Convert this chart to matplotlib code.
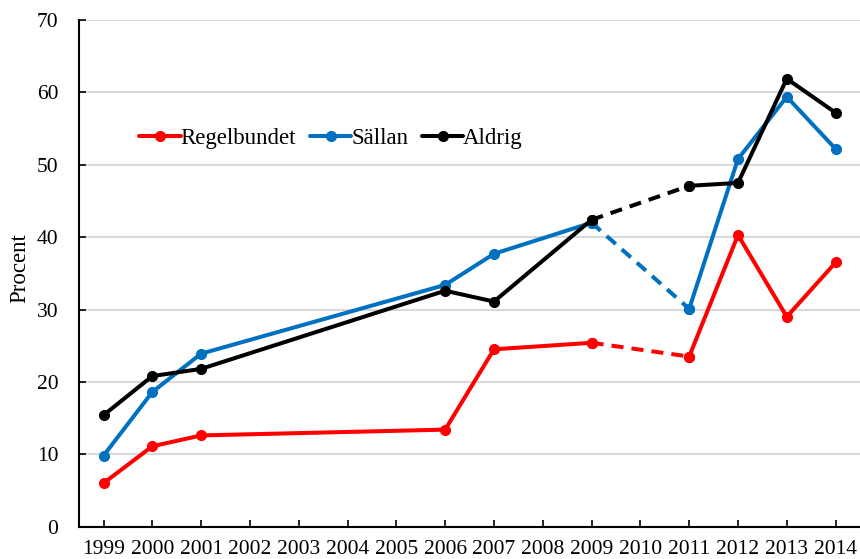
import numpy as np
import matplotlib.pyplot as plt

plt.rcParams['font.family'] = ['Liberation Serif', 'DejaVu Serif']

years = [str(y) for y in range(1999, 2015)]
data_years = [1999, 2000, 2001, 2006, 2007, 2009, 2011, 2012, 2013, 2014]

regelbundet = [6.0, 11.1, 12.6, 13.4, 24.5, 25.4, 23.5, 40.3, 29.0, 36.5]
sallan = [9.8, 18.6, 23.9, 33.4, 37.7, 42.0, 30.1, 50.8, 59.4, 52.2]
aldrig = [15.4, 20.8, 21.8, 32.6, 31.1, 42.4, 47.1, 47.5, 61.9, 57.2]

series = [
    ("Regelbundet", regelbundet, "#ff0000"),
    ("Sällan", sallan, "#0070c0"),
    ("Aldrig", aldrig, "#000000"),
]

# dashed between these two survey years
gap = (2009, 2011)

fig = plt.figure(figsize=(8.6, 5.59), dpi=100)
ax = fig.add_axes([0.092, 0.058, 0.908, 0.906])

x = np.array([y - 1999 for y in data_years])
i0 = data_years.index(gap[0])
i1 = data_years.index(gap[1])

handles = []
for name, vals, col in series:
    v = np.array(vals)
    kw = dict(color=col, lw=2.9, marker="o", ms=7, solid_capstyle="round")
    h, = ax.plot(x[:i0 + 1], v[:i0 + 1], label=name, **kw)
    ax.plot(x[i0:i1 + 1], v[i0:i1 + 1], ls=(0, (3, 2)), **kw)
    ax.plot(x[i1:], v[i1:], **kw)
    handles.append(h)

ax.set_xlim(-0.5, 15.5)
ax.set_ylim(0, 70)
ax.set_xticks(range(len(years)))
ax.set_xticklabels(years)
ax.set_yticks(range(0, 71, 10))
ax.tick_params(axis="both", direction="in", length=5, width=1.2, labelsize=15.5)
ax.tick_params(axis="x", pad=10)
ax.tick_params(axis="y", pad=15)
ax.yaxis.grid(True, color="#d9d9d9", lw=1.5)
ax.set_axisbelow(True)
for s in ["top", "right"]:
    ax.spines[s].set_visible(False)
for s in ["left", "bottom"]:
    ax.spines[s].set_linewidth(1.5)

fig.text(0.023, 0.52, "Procent", rotation=90, fontsize=16.5, ha="center", va="center")

ax.legend(handles=handles, loc="center left", bbox_to_anchor=(128 / 860, 1 - 138 / 559),
          bbox_transform=fig.transFigure, ncol=3, frameon=False, fontsize=16.5,
          handlelength=1.8, handletextpad=0.0, columnspacing=0.6, borderpad=0)

fig.savefig("out.png", dpi=100)
